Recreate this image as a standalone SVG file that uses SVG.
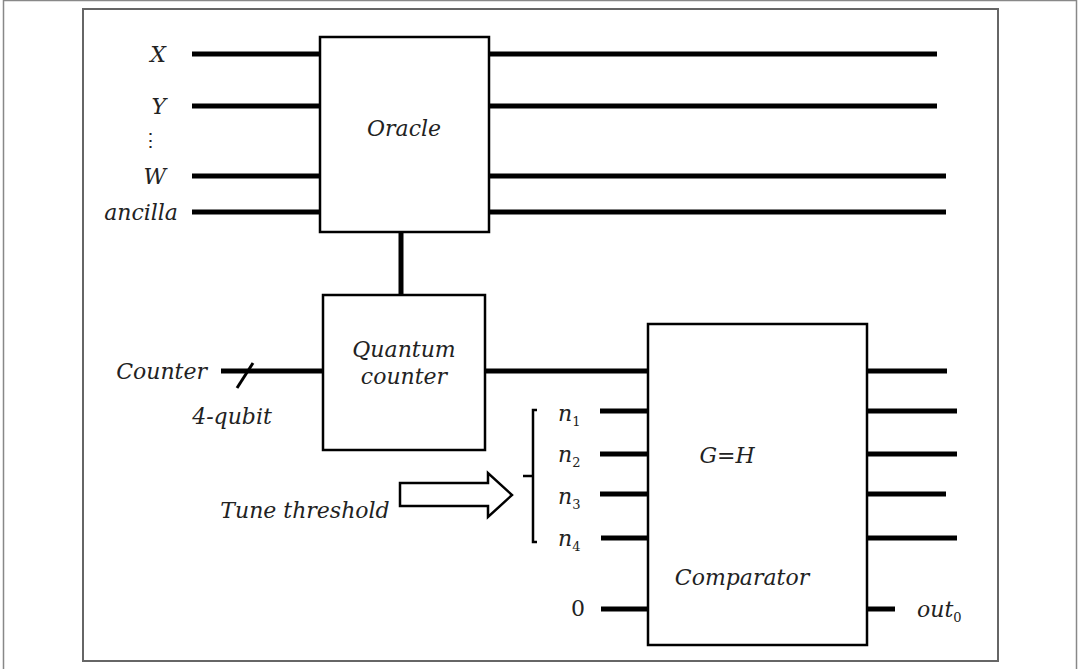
<svg xmlns="http://www.w3.org/2000/svg" width="1079" height="669" viewBox="0 0 1079 669">
<style>
.w{stroke:#000;stroke-width:5;fill:none}
.b{stroke:#000;stroke-width:2.5;fill:#fff}
.t{font-family:"DejaVu Serif","Liberation Serif",serif;font-style:italic;font-size:22px;fill:#222}
.s{font-size:13px;font-style:normal}
</style>
<rect x="0" y="0" width="1079" height="669" fill="#fff"/>
<rect x="3.5" y="0.5" width="1073" height="672" fill="none" stroke="#888" stroke-width="1.5"/>
<rect x="83" y="9" width="915" height="652" fill="none" stroke="#666" stroke-width="2"/>
<g id="connectors">
<line class="w" x1="192" y1="54" x2="320" y2="54"/>
<line class="w" x1="192" y1="106" x2="320" y2="106"/>
<line class="w" x1="192" y1="176" x2="320" y2="176"/>
<line class="w" x1="192" y1="212" x2="320" y2="212"/>
<line class="w" x1="489" y1="54" x2="937" y2="54"/>
<line class="w" x1="489" y1="106" x2="937" y2="106"/>
<line class="w" x1="489" y1="176" x2="946" y2="176"/>
<line class="w" x1="489" y1="212" x2="946" y2="212"/>
<line class="w" x1="401" y1="232" x2="401" y2="295"/>
<line class="w" x1="221" y1="371" x2="323" y2="371"/>
<line stroke="#000" stroke-width="3" x1="237" y1="388" x2="253" y2="363"/>
<line class="w" x1="485" y1="371" x2="648" y2="371"/>
<line class="w" x1="600" y1="411" x2="648" y2="411"/>
<line class="w" x1="600" y1="454" x2="648" y2="454"/>
<line class="w" x1="600" y1="494" x2="648" y2="494"/>
<line class="w" x1="601" y1="538" x2="648" y2="538"/>
<line class="w" x1="601" y1="609" x2="648" y2="609"/>
<line class="w" x1="867" y1="371" x2="947" y2="371"/>
<line class="w" x1="867" y1="411" x2="957" y2="411"/>
<line class="w" x1="867" y1="454" x2="957" y2="454"/>
<line class="w" x1="867" y1="494" x2="946" y2="494"/>
<line class="w" x1="867" y1="538" x2="957" y2="538"/>
<line class="w" x1="867" y1="609" x2="895" y2="609"/>
</g>
<g id="labels">
<text class="t" x="166" y="62" text-anchor="end">X</text>
<text class="t" x="166" y="114" text-anchor="end">Y</text>
<text class="t" x="150" y="147" text-anchor="middle" style="font-style:normal;font-size:19px">⋮</text>
<text class="t" x="166" y="184" text-anchor="end">W</text>
<text class="t" x="178" y="220" text-anchor="end">ancilla</text>
<text class="t" x="207" y="379" text-anchor="end">Counter</text>
<text class="t" x="232" y="424" text-anchor="middle">4-qubit</text>
<text class="t" x="305" y="518" text-anchor="middle">Tune threshold</text>
<text class="t" x="558" y="421">n<tspan class="s" dy="5">1</tspan></text>
<text class="t" x="558" y="462">n<tspan class="s" dy="5">2</tspan></text>
<text class="t" x="558" y="504">n<tspan class="s" dy="5">3</tspan></text>
<text class="t" x="558" y="546">n<tspan class="s" dy="5">4</tspan></text>
<text class="t" x="578" y="616" text-anchor="middle" style="font-style:normal">0</text>
<text class="t" x="917" y="617">out<tspan class="s" dy="5">0</tspan></text>
</g>
<g id="oracle">
<rect class="b" x="320" y="37" width="169" height="195"/>
<text class="t" x="404" y="136" text-anchor="middle">Oracle</text>
</g>
<g id="quantum-counter">
<rect class="b" x="323" y="295" width="162" height="155"/>
<text class="t" x="404" y="357" text-anchor="middle">Quantum</text>
<text class="t" x="404" y="384" text-anchor="middle">counter</text>
</g>
<g id="comparator">
<rect class="b" x="648" y="324" width="219" height="321"/>
<text class="t" x="727" y="463" text-anchor="middle">G=H</text>
<text class="t" x="742" y="585" text-anchor="middle">Comparator</text>
</g>
<g id="tune-arrow">
<path d="M400,483 H488 V473 L512,495 L488,517 V506 H400 Z" fill="#fff" stroke="#000" stroke-width="2.5"/>
</g>
<g id="brace">
<path d="M537,410 H533 V476 H523 M533,476 V542 H537" fill="none" stroke="#000" stroke-width="2.5"/>
</g>
</svg>
